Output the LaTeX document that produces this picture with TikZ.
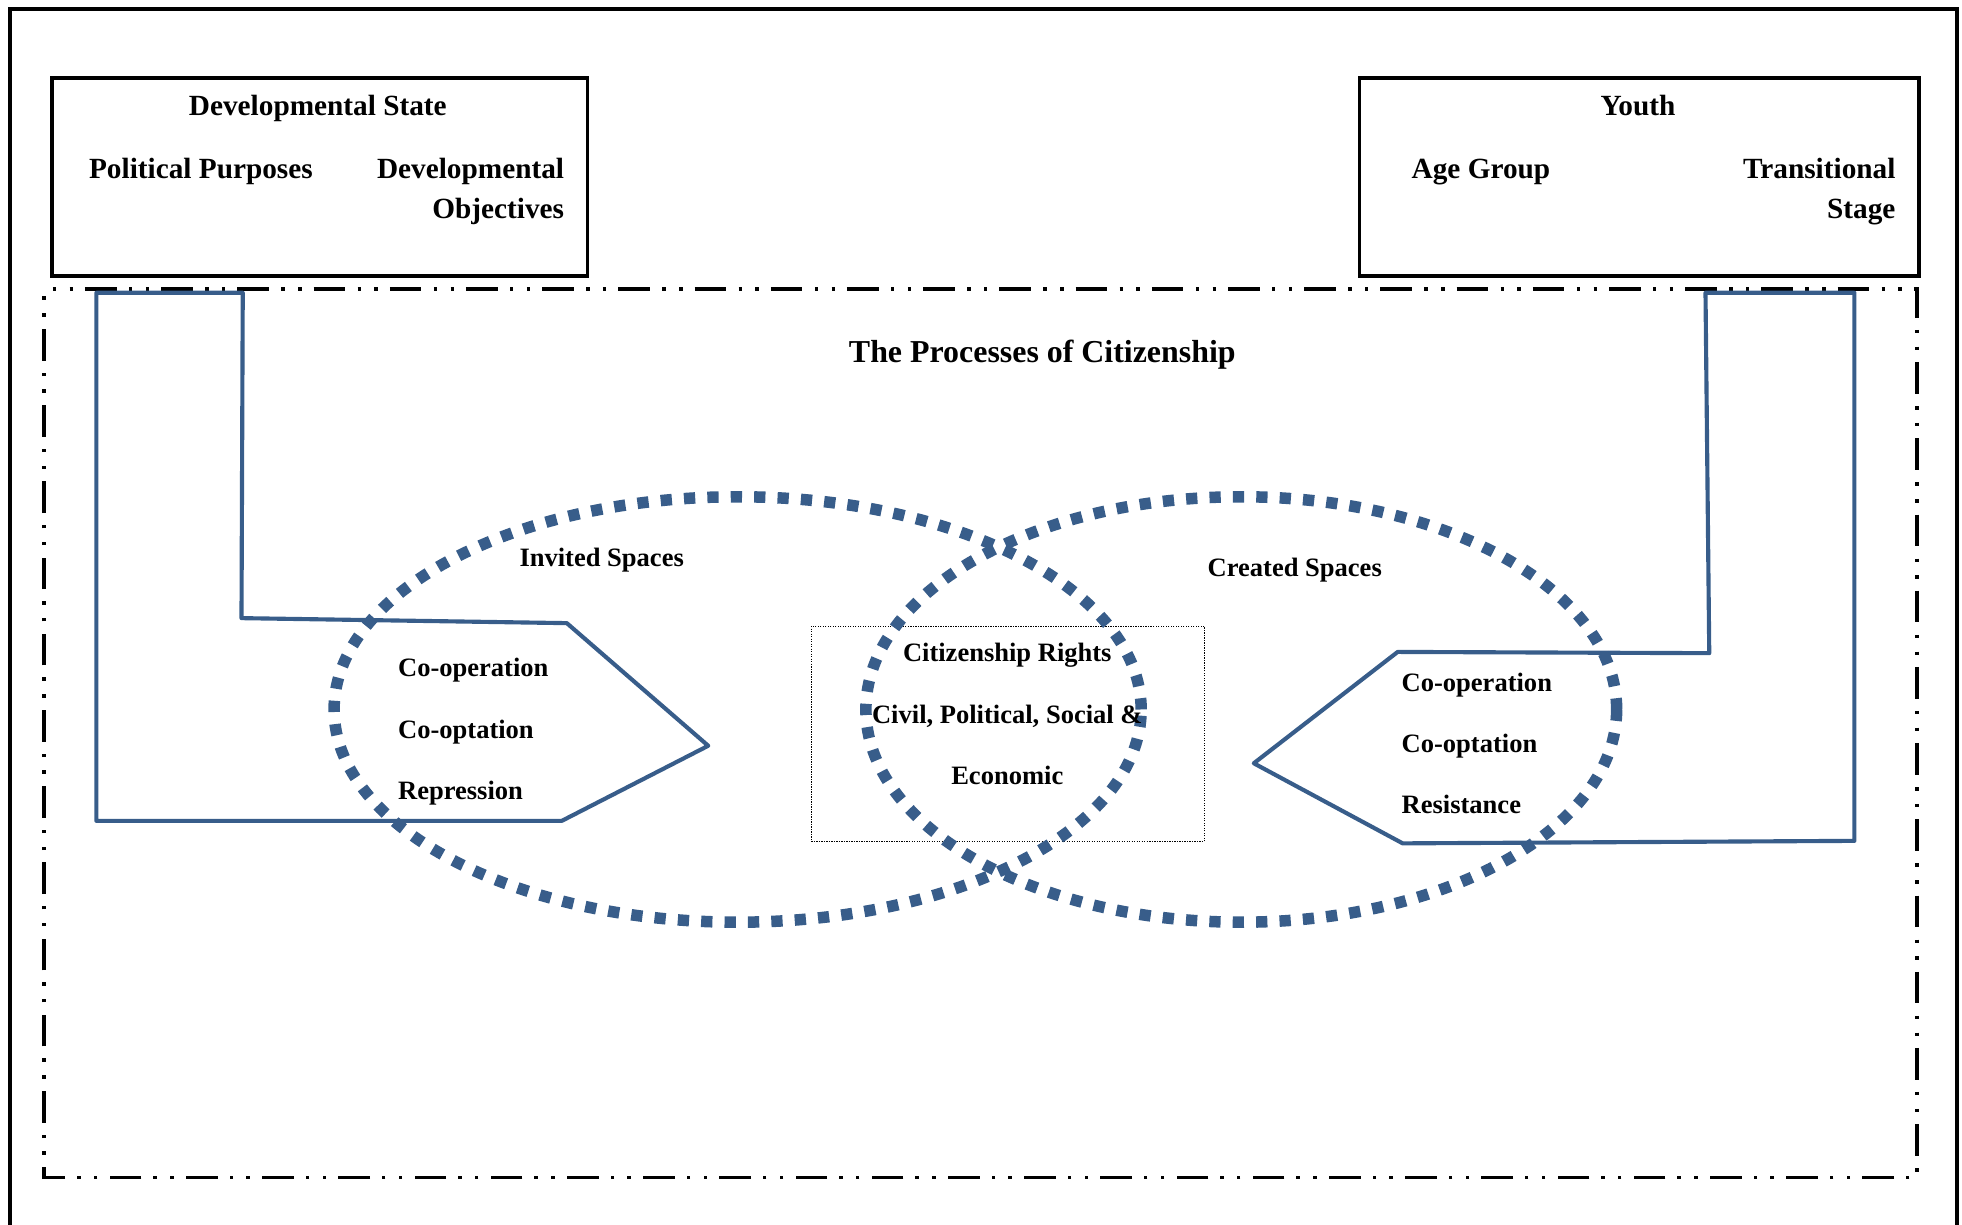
\documentclass[tikz,border=0pt]{standalone}
\usepackage{fontspec}
\setmainfont{Liberation Serif}
\definecolor{accent}{RGB}{56,93,138}
\tikzset{
  frame/.style={line width=3.6pt},
  topbox/.style={draw, line width=3pt, inner sep=0pt, anchor=north west},
  dashdotdot/.style={line width=3pt, dash pattern=on 25.3pt off 9.9pt on 2.7pt off 10.7pt on 2.7pt off 9.6pt, dash phase=28pt},
  bluepoly/.style={draw=accent, line width=3.3pt, line join=round},
  spacering/.style={draw=accent, line width=9.2pt, dash pattern=on 9pt off 9.7pt},
  rightsbox/.style={draw, line width=0.9pt, dash pattern=on 1pt off 1pt, inner sep=0pt, anchor=north west},
  txt/.style={font=\bfseries\fontsize{21.2}{25}\selectfont, inner sep=0pt},
  toptxt/.style={font=\bfseries\fontsize{23.4}{28}\selectfont, inner sep=0pt},
  titletxt/.style={font=\bfseries\fontsize{25.5}{30}\selectfont, inner sep=0pt},
}
\begin{document}
\begin{tikzpicture}[x=1pt,y=-1pt]
\useasboundingbox (0,0) rectangle (1568,979);
% outer frame
\draw[frame] (8,979) -- (8,7) -- (1564,7) -- (1564,979);
% top boxes
\node[topbox, minimum width=428pt, minimum height=158pt] (dsbox) at (40,61) {};
\node[topbox, minimum width=447pt, minimum height=158pt] (ybox) at (1085,61) {};
% dash-dot-dot frame
\draw[dashdotdot] (35,231) -- (1532,231) -- (1532,941) -- (35,941) -- cycle;
% blue pentagon shapes
\draw[bluepoly] (77,234) -- (194,234) -- (193,494) -- (453,498) -- (566,596) -- (449,656) -- (77,656) -- cycle;
\draw[bluepoly] (1363,234) -- (1482,234) -- (1482,672) -- (1121,674) -- (1002,610) -- (1117,521) -- (1366,522) -- cycle;
% rights box
\node[rightsbox, minimum width=314pt, minimum height=172pt] (cbox) at (648,500) {};
% dotted ellipses
\draw[spacering] (589.5,567) ellipse [x radius=322.5pt, y radius=170pt];
\draw[spacering] (992,567) ellipse [x radius=300pt, y radius=170pt];
% texts
\node[toptxt, anchor=base] (dst) at (254,92) {Developmental State};
\node[toptxt, anchor=base west] (pp) at (71,143) {Political Purposes};
\node[toptxt, anchor=base east] (doa) at (451,143) {Developmental};
\node[toptxt, anchor=base east] (dob) at (451,175) {Objectives};
\node[toptxt, anchor=base] (yt) at (1309,92) {Youth};
\node[toptxt, anchor=base west] (ag) at (1128,143) {Age Group};
\node[toptxt, anchor=base east] (tsa) at (1515,143) {Transitional};
\node[toptxt, anchor=base east] (tsb) at (1515,175) {Stage};
\node[titletxt, anchor=base] (title) at (833,290) {The Processes of Citizenship};
\node[txt, anchor=base west] (inv) at (415,453) {Invited Spaces};
\node[txt, anchor=base west] (la) at (318,541) {Co-operation};
\node[txt, anchor=base west] (lb) at (318,590) {Co-optation};
\node[txt, anchor=base west] (lc) at (318,639) {Repression};
\node[txt, anchor=base] (ca) at (805,529) {Citizenship Rights};
\node[txt, anchor=base] (cb) at (805,578) {Civil, Political, Social \&};
\node[txt, anchor=base] (cc) at (805,627) {Economic};
\node[txt, anchor=base west] (cre) at (965,461) {Created Spaces};
\node[txt, anchor=base west] (ra) at (1120,553) {Co-operation};
\node[txt, anchor=base west] (rb) at (1120,601) {Co-optation};
\node[txt, anchor=base west] (rc) at (1120,650) {Resistance};
\end{tikzpicture}
\end{document}
